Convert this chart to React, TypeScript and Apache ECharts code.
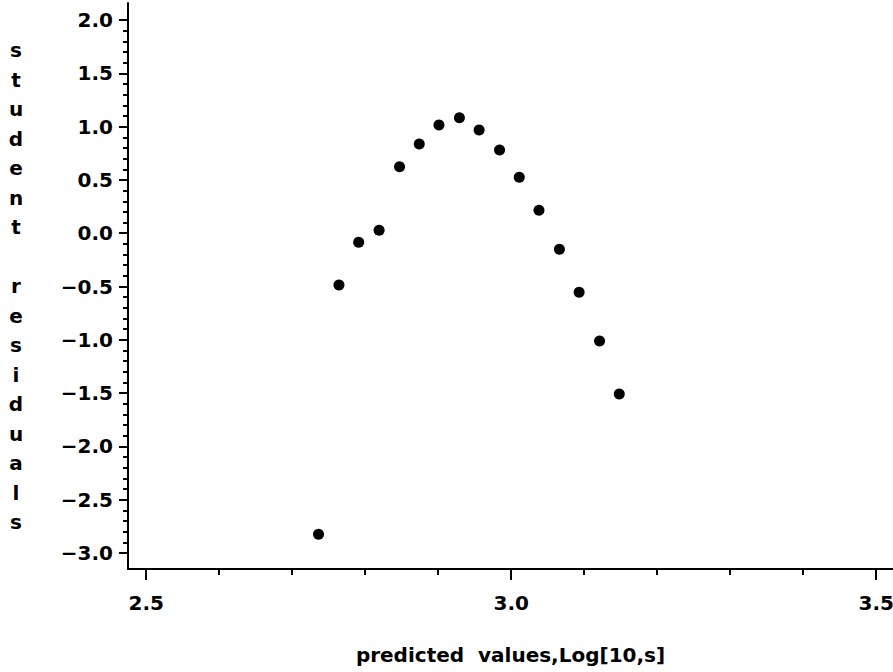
import React, { useEffect, useRef } from "react";
import * as echarts from "echarts";

// Data
const predictedValues = [2.736, 2.764, 2.791, 2.819, 2.847, 2.874, 2.901, 2.929, 2.956, 2.984, 3.011, 3.038, 3.066, 3.093, 3.121, 3.148];
const studentResiduals = [-2.825, -0.486, -0.085, 0.027, 0.624, 0.837, 1.015, 1.083, 0.968, 0.78, 0.525, 0.215, -0.151, -0.554, -1.011, -1.508];

// Tick values
const xMajorTicks = [2.5, 3.0, 3.5];
const xMinorTicks = [2.6, 2.7, 2.8, 2.9, 3.1, 3.2, 3.3, 3.4];
const yMajorTicks = [-3.0, -2.5, -2.0, -1.5, -1.0, -0.5, 0.0, 0.5, 1.0, 1.5, 2.0];
const yMinorTicks = [
  -2.9, -2.8, -2.7, -2.6, -2.4, -2.3, -2.2, -2.1, -1.9, -1.8, -1.7, -1.6,
  -1.4, -1.3, -1.2, -1.1, -0.9, -0.8, -0.7, -0.6, -0.4, -0.3, -0.2, -0.1,
  0.1, 0.2, 0.3, 0.4, 0.6, 0.7, 0.8, 0.9, 1.1, 1.2, 1.3, 1.4, 1.6, 1.7, 1.8, 1.9,
];

const xRange = [2.475, 3.523];
const yRange = [-3.15, 2.16];

const xTitle = "predicted  values,Log[10,s]";
const yTitle = "student residuals";

const FONT = "DejaVu Sans";

const fmt = (v: number) => {
  const r = Math.round(v * 10) / 10;
  if (r < 0) return "\u2212" + Math.abs(r).toFixed(1);
  return r.toFixed(1);
};

export default function App() {
  const ref = useRef<HTMLDivElement>(null);

  useEffect(() => {
    if (!ref.current) return;
    const chart = echarts.init(ref.current, undefined, { renderer: "svg" });
    const verticalTitle = yTitle
      .split(" ")
      .map((w) => w.split("").join("\n"))
      .join("\n \n");

    const lineStyle = { color: "#000", width: 2 };
    const baseText = { fontFamily: FONT, fontWeight: "bold" as const, fontSize: 20, color: "#000" };

    chart.setOption({
      animation: false,
      backgroundColor: "#fff",
      grid: { left: 128, right: 0, top: 3, bottom: 103, containLabel: false, outerBoundsMode: "none" },
      xAxis: [
        {
          type: "value",
          position: "bottom",
          min: xRange[0],
          max: xRange[1],
          axisLine: { show: true, onZero: false, lineStyle },
          axisTick: { show: true, inside: false, length: 11, lineStyle, customValues: xMajorTicks },
          axisLabel: { show: true, margin: 24, customValues: xMajorTicks, formatter: (v: number) => fmt(v), ...baseText },
          splitLine: { show: false },
          name: xTitle,
          nameLocation: "middle",
          nameGap: 86,
          nameTextStyle: { ...baseText, verticalAlign: "middle", align: "center" },
        },
        {
          type: "value",
          position: "bottom",
          min: xRange[0],
          max: xRange[1],
          axisLine: { show: false, onZero: false },
          axisTick: { show: true, inside: false, length: 6, lineStyle, customValues: xMinorTicks },
          axisLabel: { show: false },
          splitLine: { show: false },
        },
      ],
      yAxis: [
        {
          type: "value",
          position: "left",
          min: yRange[0],
          max: yRange[1],
          axisLine: { show: true, onZero: false, lineStyle },
          axisTick: { show: true, inside: false, length: 9, lineStyle, customValues: yMajorTicks },
          axisLabel: { show: true, margin: 15, customValues: yMajorTicks, formatter: (v: number) => fmt(v), ...baseText },
          splitLine: { show: false },
          name: verticalTitle,
          nameLocation: "middle",
          nameRotate: 0,
          nameGap: 112,
          nameTextStyle: { ...baseText, lineHeight: 29.5, align: "center", verticalAlign: "middle" },
        },
        {
          type: "value",
          position: "left",
          min: yRange[0],
          max: yRange[1],
          axisLine: { show: false, onZero: false },
          axisTick: { show: true, inside: false, length: 5, lineStyle, customValues: yMinorTicks },
          axisLabel: { show: false },
          splitLine: { show: false },
        },
      ],
      series: [
        {
          type: "scatter",
          xAxisIndex: 0,
          yAxisIndex: 0,
          symbol: "circle",
          symbolSize: 11,
          itemStyle: { color: "#000", opacity: 1 },
          emphasis: { disabled: true },
          data: predictedValues.map((x, i) => [x, studentResiduals[i]]),
        },
      ],
    });
    return () => chart.dispose();
  }, []);

  return (
    <div
      ref={ref}
      style={{ position: "fixed", left: 0, top: 0, width: 893, height: 672, background: "#fff" }}
    />
  );
}
